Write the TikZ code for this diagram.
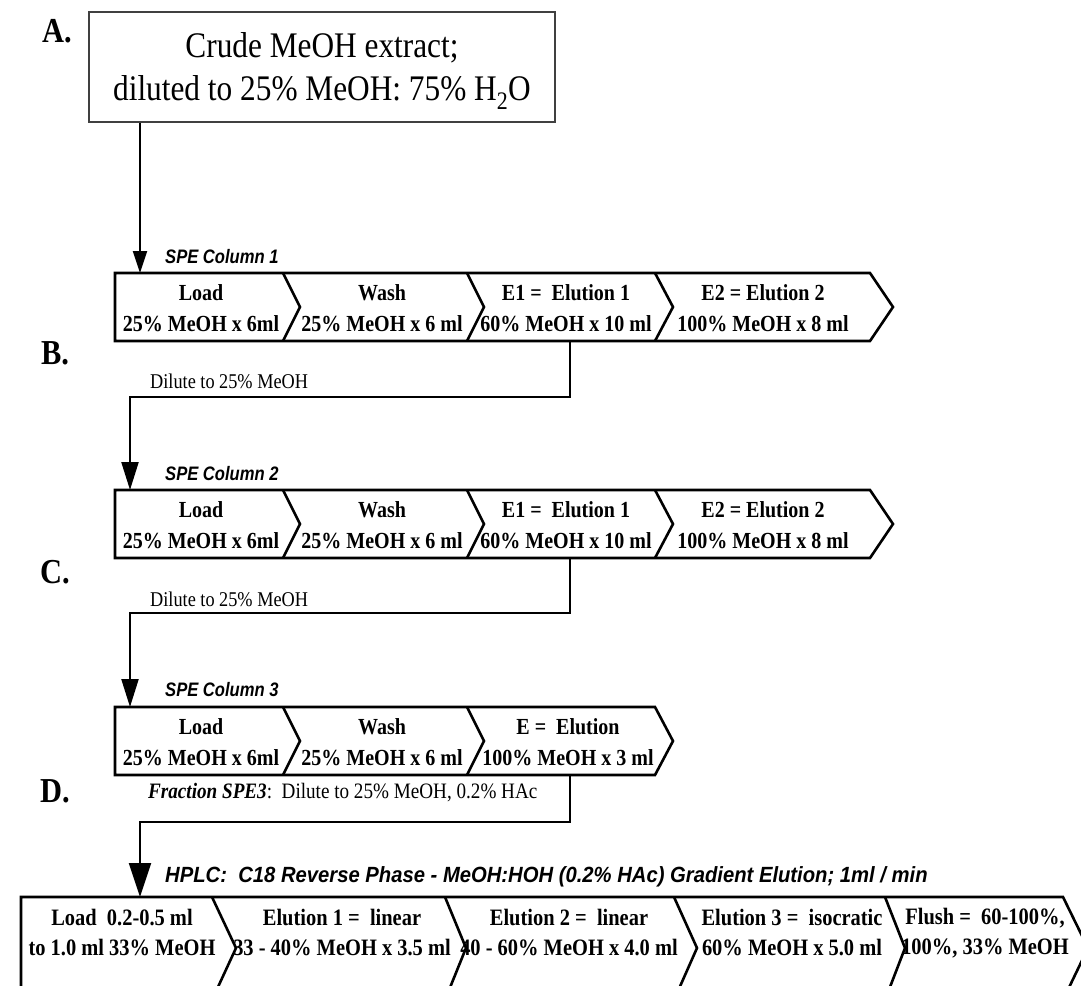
\documentclass[tikz,border=0pt]{standalone}
\usepackage{fontspec}
\setmainfont{Liberation Serif}
\newfontfamily\cserif[FakeStretch=0.87]{Liberation Serif}
\newfontfamily\carial[FakeStretch=0.85]{Liberation Sans}
\newfontfamily\carialw[FakeStretch=0.92]{Liberation Sans}
\usetikzlibrary{arrows.meta}
\begin{document}
\begin{tikzpicture}[x=1pt,y=-1pt,
  rowline/.style={line width=2.6pt, line join=miter},
  conn/.style={line width=2.2pt},
  seg/.style={font=\cserif\fontsize{23}{31}\selectfont\bfseries, align=center, inner sep=0pt},
  segb/.style={font=\cserif\fontsize{23.5}{30}\selectfont\bfseries, align=center, inner sep=0pt},
  lbl/.style={font=\cserif\fontsize{35}{36}\selectfont\bfseries, inner sep=0pt},
  col/.style={font=\carial\fontsize{19.5}{22}\selectfont\bfseries\itshape, anchor=west, inner sep=0pt},
  colw/.style={font=\carialw\fontsize{22}{24}\selectfont\bfseries\itshape, anchor=west, inner sep=0pt},
  note/.style={font=\cserif\fontsize{21}{24}\selectfont, anchor=west, inner sep=0pt},
  notew/.style={font=\cserif\fontsize{22}{24}\selectfont, anchor=west, inner sep=0pt},
  boxa/.style={draw=black!75, line width=1.3pt, minimum width=466pt, minimum height=110pt, inner sep=0pt},
  boxatext/.style={align=center, font=\cserif\fontsize{36}{43}\selectfont, inner sep=0pt},
  arrS/.style={-{Triangle[length=22pt,width=14pt]}},
  arrM/.style={-{Triangle[length=28pt,width=17pt]}},
  arrL/.style={-{Triangle[length=34pt,width=22pt]}}
]
\useasboundingbox (0,0) rectangle (1081,985);
\clip (0,0) rectangle (1081,985);

% labels
\node[lbl] (labA) at (57,31) {A.};
\node[lbl] (labB) at (55,353) {B.};
\node[lbl] (labC) at (55,572) {C.};
\node[lbl] (labD) at (55,791) {D.};

% box A
\node[boxa] (boxA) at (322,67) {};
\node[boxatext] (boxAt) at (322,71) {Crude MeOH extract;\\diluted to 25\% MeOH: 75\% H\textsubscript{2}O};

% ---------- Row 1 ----------
\node[col] (col1) at (165,257) {SPE Column 1};
\draw[rowline] (115,273) -- (870,273) -- (893,307) -- (870,341) -- (115,341) -- cycle;
\draw[rowline] (283,273) -- (300,307) -- (283,341);
\draw[rowline] (467,273) -- (484,307) -- (467,341);
\draw[rowline] (655,273) -- (673,307) -- (655,341);
\node[seg] (r1a) at (201,308) {Load\\25\% MeOH x 6ml};
\node[seg] (r1b) at (382,308) {Wash\\25\% MeOH x 6 ml};
\node[seg] (r1c) at (566,308) {E1 =\ \ Elution 1\\60\% MeOH x 10 ml};
\node[seg] (r1d) at (763,308) {E2 = Elution 2\\100\% MeOH x 8 ml};
\coordinate (r1in) at (140,273);
\coordinate (r1out) at (570,341);
\draw[conn,arrS] (boxA.south -| r1in) -- (r1in);

% ---------- Row 2 ----------
\node[col] (col2) at (165,474) {SPE Column 2};
\draw[rowline] (115,490) -- (870,490) -- (893,524) -- (870,558) -- (115,558) -- cycle;
\draw[rowline] (283,490) -- (300,524) -- (283,558);
\draw[rowline] (467,490) -- (484,524) -- (467,558);
\draw[rowline] (655,490) -- (673,524) -- (655,558);
\node[seg] (r2a) at (201,525) {Load\\25\% MeOH x 6ml};
\node[seg] (r2b) at (382,525) {Wash\\25\% MeOH x 6 ml};
\node[seg] (r2c) at (566,525) {E1 =\ \ Elution 1\\60\% MeOH x 10 ml};
\node[seg] (r2d) at (763,525) {E2 = Elution 2\\100\% MeOH x 8 ml};
\coordinate (r2in) at (130,490);
\coordinate (r2out) at (570,558);
\node[note] (dil1) at (150,381) {Dilute to 25\% MeOH};
\draw[conn,arrM] (r1out) -- ++(0,56) -| (r2in);

% ---------- Row 3 ----------
\node[col] (col3) at (165,690) {SPE Column 3};
\draw[rowline] (115,707) -- (655,707) -- (673,741) -- (655,775) -- (115,775) -- cycle;
\draw[rowline] (283,707) -- (300,741) -- (283,775);
\draw[rowline] (467,707) -- (484,741) -- (467,775);
\node[seg] (r3a) at (201,742) {Load\\25\% MeOH x 6ml};
\node[seg] (r3b) at (382,742) {Wash\\25\% MeOH x 6 ml};
\node[seg] (r3c) at (568,742) {E =\ \ Elution\\100\% MeOH x 3 ml};
\coordinate (r3in) at (130,707);
\coordinate (r3out) at (570,775);
\node[note] (dil2) at (150,599) {Dilute to 25\% MeOH};
\draw[conn,arrM] (r2out) -- ++(0,55) -| (r3in);

% ---------- Row 4 ----------
\node[colw] (col4) at (165,877) {HPLC:\ \ C18 Reverse Phase - MeOH:HOH (0.2\% HAc) Gradient Elution; 1ml / min};
\draw[rowline] (21,1000) -- (21,897) -- (1063,897) -- (1088,948) -- (1063,1000);
\draw[rowline] (212,897) -- (236,948) -- (212,1000);
\draw[rowline] (445,897) -- (466,948) -- (445,1000);
\draw[rowline] (674,897) -- (697,948) -- (674,1000);
\draw[rowline] (885,897) -- (905,948) -- (885,1000);
\node[segb] (r4a) at (122,933) {Load\ \ 0.2-0.5 ml\\to 1.0 ml 33\% MeOH};
\node[segb] (r4b) at (342,933) {Elution 1 =\ \ linear\\33 - 40\% MeOH x 3.5 ml};
\node[segb] (r4c) at (569,933) {Elution 2 =\ \ linear\\40 - 60\% MeOH x 4.0 ml};
\node[segb] (r4d) at (792,933) {Elution 3 =\ \ isocratic\\60\% MeOH x 5.0 ml};
\node[segb] (r4e) at (985,933) {Flush =\ \ 60-100\%,\\100\%, 33\% MeOH};
\coordinate (r4in) at (140,897);
\node[notew] (dil3) at (148,793) {\textbf{\textit{Fraction SPE3}}:\ \ Dilute to 25\% MeOH, 0.2\% HAc};
\draw[conn,arrL] (r3out) -- ++(0,47) -| (r4in);
\end{tikzpicture}
\end{document}
